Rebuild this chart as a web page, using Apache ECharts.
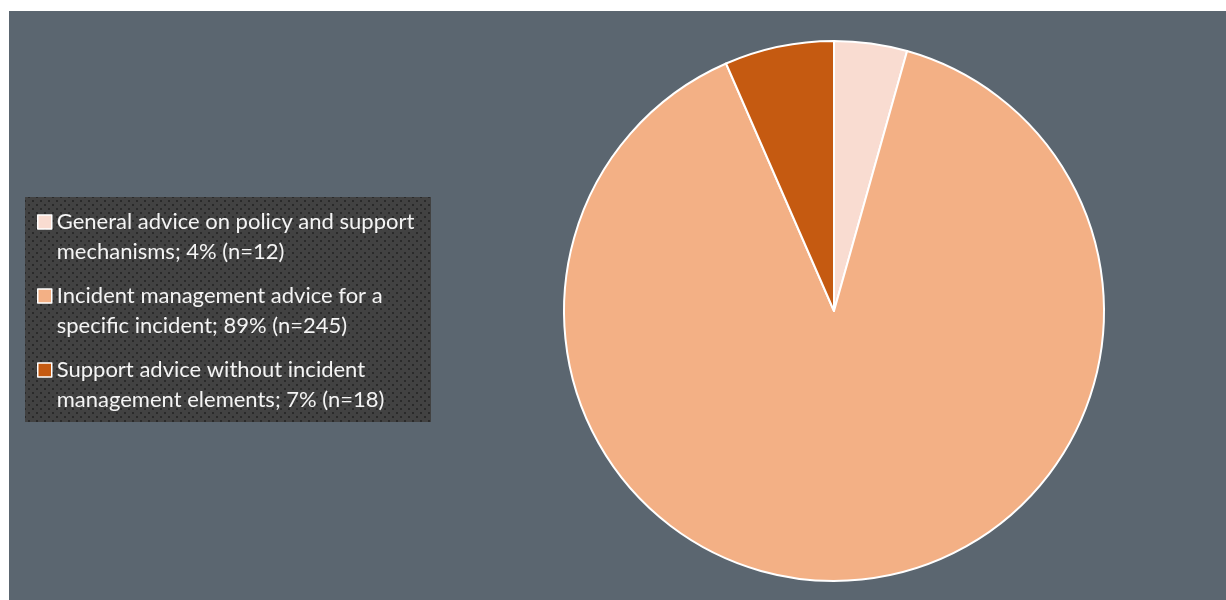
<!DOCTYPE html>
<html>
<head>
<meta charset="utf-8">
<script src="https://cdn.jsdelivr.net/npm/echarts@6/dist/echarts.min.js"></script>
<style>
html,body{margin:0;padding:0;background:#ffffff;}
#chart{width:1226px;height:600px;}
</style>
</head>
<body>
<div id="chart"></div>
<script>
const categories = [
  'General advice on policy and support\nmechanisms; 4% (n=12)',
  'Incident management advice for a\nspecific incident; 89% (n=245)',
  'Support advice without incident\nmanagement elements; 7% (n=18)'
];
const values = [12, 245, 18];
const colors = ['#F9DCD1', '#F3B085', '#C55A11'];

// dotted pattern for legend box
const pc = document.createElement('canvas');
pc.width = 8; pc.height = 8;
const g = pc.getContext('2d');
g.fillStyle = '#424242'; g.fillRect(0, 0, 8, 8);
g.fillStyle = '#2a2a2a';
g.fillRect(0, 0, 2, 2);
g.fillRect(4, 4, 2, 2);

const chart = echarts.init(document.getElementById('chart'), null, {renderer: 'canvas'});
chart.setOption({
  backgroundColor: '#ffffff',
  animation: false,
  graphic: [
    {type: 'rect', z: -10, shape: {x: 9, y: 11, width: 1217, height: 589}, style: {fill: '#5B6670'}},
    {type: 'rect', z: -9, shape: {x: 25, y: 197, width: 406, height: 225}, style: {fill: {image: pc, repeat: 'repeat'}}}
  ],
  legend: {
    orient: 'vertical',
    left: 37,
    top: 177,
    padding: 0,
    itemWidth: 14,
    itemHeight: 14,
    itemGap: -16,
    icon: 'rect',
    itemStyle: {borderColor: '#ffffff', borderWidth: 1.5},
    formatter: name => '\n' + name,
    textStyle: {
      color: '#f4f4f4',
      fontFamily: 'Lato',
      fontSize: 22,
      lineHeight: 30
    },
    data: categories
  },
  series: [{
    type: 'pie',
    center: [834, 311],
    radius: [0, 270],
    startAngle: 90,
    clockwise: true,
    label: {show: false},
    labelLine: {show: false},
    itemStyle: {borderColor: '#ffffff', borderWidth: 2},
    emphasis: {disabled: true},
    data: categories.map((c, i) => ({name: c, value: values[i], itemStyle: {color: colors[i]}}))
  }]
});
</script>
</body>
</html>
